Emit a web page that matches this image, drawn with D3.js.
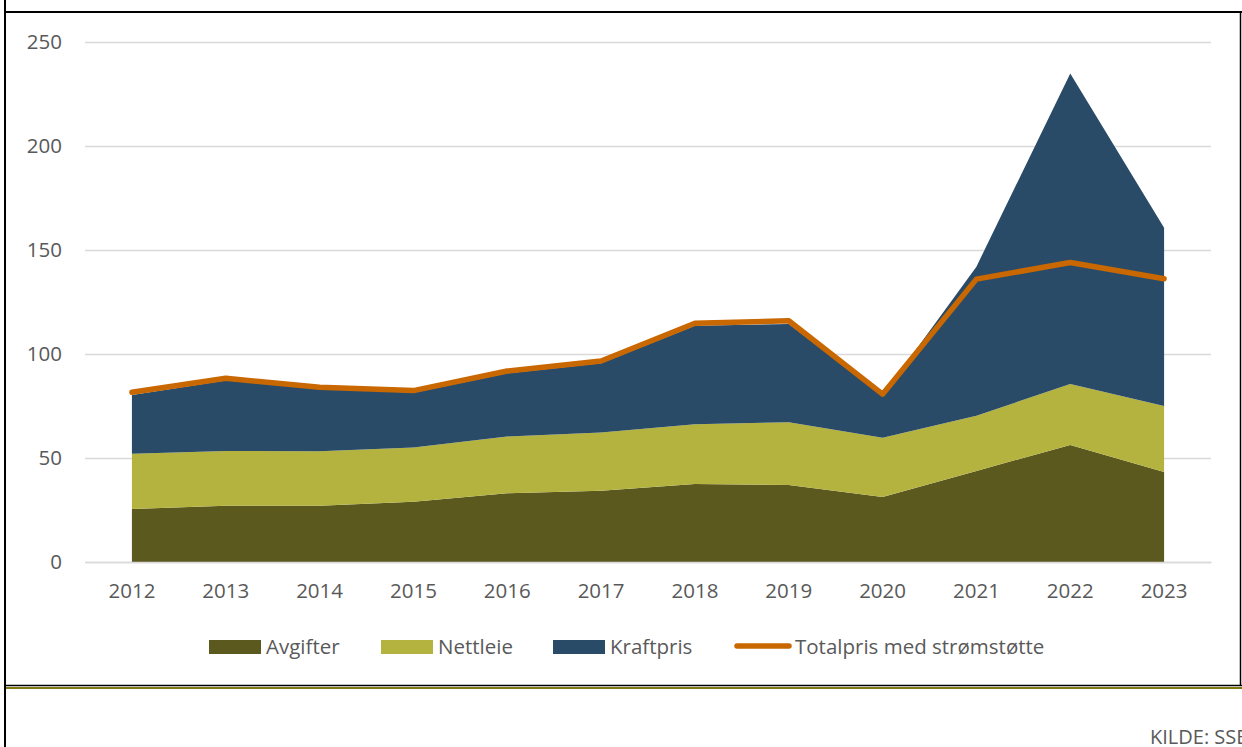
<!DOCTYPE html>
<html>
<head>
<meta charset="utf-8">
<script src="https://cdn.jsdelivr.net/npm/d3@7"></script>
<style>
  html, body { margin: 0; padding: 0; background: #fff; overflow: hidden; }
  svg { display: block; }
  text { font-family: "Open Sans", "Lato", sans-serif; fill: #595959; }
</style>
</head>
<body>
<svg id="chart" width="1242" height="747"></svg>
<script>
// ---- Data ----
const years = ["2012","2013","2014","2015","2016","2017","2018","2019","2020","2021","2022","2023"];
const avgifter = [25.5, 27.0, 27.0, 29.0, 33.0, 34.3, 37.5, 37.0, 31.2, 43.8, 56.3, 43.3];
const nettleie = [26.5, 26.4, 26.2, 26.1, 27.3, 27.9, 28.7, 30.2, 28.5, 26.5, 29.3, 31.7];
const kraftpris = [28.3, 33.8, 30.3, 26.3, 30.4, 33.3, 47.4, 47.2, 20.3, 71.7, 149.3, 85.7];
const totalpris = [81.6, 88.3, 84.0, 82.4, 91.8, 96.6, 114.8, 116.0, 80.7, 136.0, 144.0, 136.2];
const yTicks = [0, 50, 100, 150, 200, 250];
const seriesNames = ["Avgifter", "Nettleie", "Kraftpris"];
const lineName = "Totalpris med strømstøtte";
const sourceText = "KILDE: SSB";

const colors = { Avgifter: "#5B591E", Nettleie: "#B5B340", Kraftpris: "#2A4B67" };
const lineColor = "#C96700";
const fs = 20.5;

const svg = d3.select("#chart");

// frame
svg.append("line").attr("x1", 5).attr("x2", 5).attr("y1", 0).attr("y2", 747)
  .attr("stroke", "#000").attr("stroke-width", 2);
svg.append("line").attr("x1", 4).attr("x2", 1242).attr("y1", 12).attr("y2", 12)
  .attr("stroke", "#000").attr("stroke-width", 2);
svg.append("line").attr("x1", 1240.5).attr("x2", 1240.5).attr("y1", 12).attr("y2", 686)
  .attr("stroke", "#000").attr("stroke-width", 1.5);
svg.append("line").attr("x1", 5).attr("x2", 1242).attr("y1", 685.5).attr("y2", 685.5)
  .attr("stroke", "#000").attr("stroke-width", 1.5);
svg.append("line").attr("x1", 6).attr("x2", 1242).attr("y1", 688).attr("y2", 688)
  .attr("stroke", "#7F7A14").attr("stroke-width", 2);

// scales
const x = d3.scaleBand().domain(years).range([85, 1211]).padding(0);
const cx = d => x(d) + x.bandwidth() / 2;
const y = d3.scaleLinear().domain([0, 250]).range([562, 42]);

// gridlines + y labels
const yAxis = d3.axisLeft(y).tickValues(yTicks).tickSize(-(1211 - 85)).tickPadding(23);
const gy = svg.append("g").attr("transform", "translate(85,0)").call(yAxis);
gy.select(".domain").remove();
gy.selectAll(".tick line").attr("stroke", "#D9D9D9").attr("stroke-width", 1.5);
gy.selectAll(".tick text").attr("font-size", fs).attr("fill", "#595959")
  .style("font-family", "'Open Sans', sans-serif");

// stacked areas
const table = years.map((yr, i) => ({ year: yr, Avgifter: avgifter[i], Nettleie: nettleie[i], Kraftpris: kraftpris[i] }));
const stacked = d3.stack().keys(seriesNames)(table);
const area = d3.area()
  .x(d => cx(d.data.year))
  .y0(d => y(d[0]))
  .y1(d => y(d[1]));
svg.append("g").selectAll("path").data(stacked).join("path")
  .attr("d", area)
  .attr("fill", d => colors[d.key]);

// x axis
const xAxis = d3.axisBottom(x).tickSize(0).tickPadding(21);
const gx = svg.append("g").attr("transform", "translate(0,562)").call(xAxis);
gx.select(".domain").attr("stroke", "#D9D9D9").attr("stroke-width", 1.5);
gx.selectAll(".tick text").attr("font-size", fs).attr("fill", "#595959")
  .style("font-family", "'Open Sans', sans-serif");

// total line
const line = d3.line().x((d, i) => cx(years[i])).y(d => y(d));
svg.append("path").datum(totalpris).attr("d", line)
  .attr("fill", "none").attr("stroke", lineColor).attr("stroke-width", 5.5)
  .attr("stroke-linejoin", "round").attr("stroke-linecap", "round");

// legend
const legend = svg.append("g");
const legendItems = [
  { name: "Avgifter", x: 209, type: "rect" },
  { name: "Nettleie", x: 381, type: "rect" },
  { name: "Kraftpris", x: 553, type: "rect" },
  { name: lineName, x: 737, type: "line" }
];
legendItems.forEach(it => {
  if (it.type === "rect") {
    legend.append("rect").attr("x", it.x).attr("y", 640).attr("width", 52).attr("height", 14)
      .attr("fill", colors[it.name]);
    legend.append("text").attr("x", it.x + 57).attr("y", 654).attr("font-size", fs).text(it.name);
  } else {
    legend.append("line").attr("x1", it.x).attr("x2", it.x + 52).attr("y1", 646).attr("y2", 646)
      .attr("stroke", lineColor).attr("stroke-width", 5.5).attr("stroke-linecap", "round");
    legend.append("text").attr("x", it.x + 58).attr("y", 654).attr("font-size", fs).text(it.name);
  }
});

// source (cut at the right edge, as in the reference)
svg.append("text").attr("x", 1150).attr("y", 744).attr("font-size", 20).text(sourceText);
</script>
</body>
</html>
